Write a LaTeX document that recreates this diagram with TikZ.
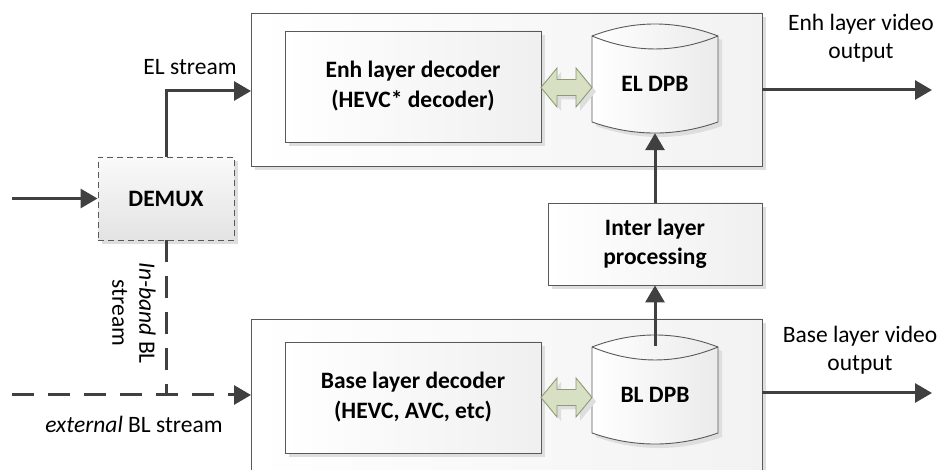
\documentclass[tikz,border=0pt]{standalone}
\usepackage{fontspec}
\setmainfont{Carlito}
\usetikzlibrary{arrows.meta,shadows,calc}
\definecolor{ln}{HTML}{404040}
\definecolor{bd}{HTML}{595959}
\definecolor{grn}{HTML}{D7E0C3}
\definecolor{grnd}{HTML}{8E9B78}
\newcommand\cylbody[2]{(#1,#2) -- (#1,#2+86) .. controls (#1+42,#2+100.7) and (#1+84,#2+100.7) .. (#1+126,#2+86) -- (#1+126,#2) .. controls (#1+84,#2-16) and (#1+42,#2-16) .. cycle}
\newcommand\cylrim[2]{(#1,#2) .. controls (#1+42,#2+17.3) and (#1+84,#2+17.3) .. (#1+126,#2)}
\newcommand\dblarrow[2]{(#1-25.5,#2) -- (#1-9.5,#2-19.5) -- (#1-9.5,#2-8) -- (#1+9.5,#2-8) -- (#1+9.5,#2-19.5) -- (#1+25.5,#2) -- (#1+9.5,#2+19.5) -- (#1+9.5,#2+8) -- (#1-9.5,#2+8) -- (#1-9.5,#2+19.5) -- cycle}
\begin{document}
\begin{tikzpicture}[x=1pt,y=-1pt,
  font=\fontsize{23.5}{29}\selectfont,
  shd/.style={drop shadow={shadow xshift=4pt,shadow yshift=-4pt,fill=black!13,opacity=1}},
  outerbox/.style={draw=bd,line width=0.9pt,left color=white,right color=black!5,shd,inner sep=0pt},
  decbox/.style={draw=bd,line width=0.9pt,left color=white,right color=black!6,shd,align=center,font=\fontsize{23.5}{30}\selectfont\bfseries,inner sep=0pt},
  demuxbox/.style={draw=bd,line width=0.9pt,dash pattern=on 6pt off 4pt,top color=black!2,bottom color=black!11,shd,font=\fontsize{23.5}{29}\selectfont\bfseries,inner sep=0pt},
  darrow/.style={draw=grnd,fill=grn,line width=0.9pt,line join=miter},
  arr/.style={draw=ln,line width=3pt,-{Triangle[length=17pt,width=19pt]}},
  dsh/.style={draw=ln,line width=3pt,dash pattern=on 22pt off 14pt},
  lbl/.style={align=center,inner sep=0pt}
]
\clip (0,0) rectangle (946,470);
\fill[white] (0,0) rectangle (946,470);

% outer boxes
\node[outerbox,minimum width=511pt,minimum height=153pt] (topbox) at (506.5,89.5) {};
\node[outerbox,minimum width=511pt,minimum height=171pt] (botbox) at (506.5,404.5) {};

% decoders
\node[decbox,minimum width=256pt,minimum height=111pt] (enhdec) at (413,86.5) {Enh layer decoder\\(HEVC* decoder)};
\node[decbox,minimum width=256pt,minimum height=111pt] (basedec) at (413,397.5) {Base layer decoder\\(HEVC, AVC, etc)};

% cylinders
\fill[black!13] [shift={(4pt,-4pt)}] \cylbody{592}{36};
\shade[left color=white,right color=black!8] \cylbody{592}{36};
\draw[bd,line width=0.9pt] \cylbody{592}{36};
\draw[bd,line width=0.9pt] \cylrim{592}{36};
\node[font=\fontsize{23.5}{29}\selectfont\bfseries,minimum width=126pt,minimum height=98pt,inner sep=0pt] (eldpb) at (655,84) {EL DPB};

\fill[black!13] [shift={(4pt,-4pt)}] \cylbody{592}{347};
\shade[left color=white,right color=black!8] \cylbody{592}{347};
\draw[bd,line width=0.9pt] \cylbody{592}{347};
\draw[bd,line width=0.9pt] \cylrim{592}{347};
\node[font=\fontsize{23.5}{29}\selectfont\bfseries,minimum width=126pt,minimum height=98pt,inner sep=0pt] (bldpb) at (655,395) {BL DPB};

% double arrows
\fill[black!13] [shift={(4pt,-4pt)}] \dblarrow{566.5}{87.5};
\draw[darrow] \dblarrow{566.5}{87.5};
\coordinate (da1) at (566.5,87.5);
\fill[black!13] [shift={(4pt,-4pt)}] \dblarrow{566.5}{397.5};
\draw[darrow] \dblarrow{566.5}{397.5};
\coordinate (da2) at (566.5,397.5);

% inter layer
\node[decbox,minimum width=214pt,minimum height=82pt,font=\fontsize{23.5}{29}\selectfont\bfseries] (inter) at (655,244) {Inter layer\\processing};

% demux
\node[demuxbox,minimum width=136pt,minimum height=83pt] (demux) at (166,198.5) {DEMUX};

% coordinates
\coordinate (in) at (12,198.5);
\coordinate (elin) at (251,91);
\coordinate (extin) at (12,395);
\coordinate (blin) at (251,395);
\coordinate (enhout) at (932,90);
\coordinate (baseout) at (932,393);

% connectors
\draw[arr] (in) -- (demux.west);
\draw[arr] (demux.north) |- (elin);
\draw[dsh] (demux.south) -- (demux.south |- extin);
\draw[dsh,-{Triangle[length=17pt,width=19pt]}] (extin) -- (blin);
\draw[arr] (bldpb.north) -- (inter.south);
\draw[arr] (inter.north) -- (eldpb.south);
\draw[arr] (topbox.east |- enhout) -- (enhout);
\draw[arr] (botbox.east |- baseout) -- (baseout);

% labels
\node[lbl] (elst) at (190,67) {EL stream};
\node[lbl,font=\fontsize{23.5}{28}\selectfont] (enhlbl) at (861,38) {Enh layer video\\output};
\node[lbl,font=\fontsize{23.5}{28}\selectfont] (baselbl) at (860,350) {Base layer video\\output};
\node[lbl] (extl) at (134,424) {\textit{external} BL stream};
\node[lbl,rotate=-90,font=\fontsize{23.5}{27}\selectfont] (inb) at (134,313) {\textit{In-band} BL\\stream};
\end{tikzpicture}
\end{document}
